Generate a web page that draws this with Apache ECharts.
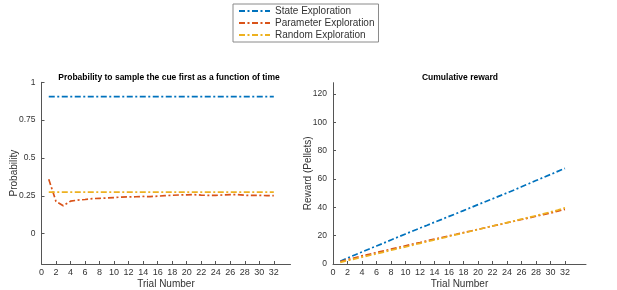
<!DOCTYPE html>
<html>
<head>
<meta charset="utf-8">
<script src="https://cdn.jsdelivr.net/npm/echarts@6/dist/echarts.min.js"></script>
<style>
  html, body { margin: 0; padding: 0; background: #fff; }
  #chart { width: 617px; height: 290px; }
</style>
</head>
<body>
<div id="chart"></div>
<script>
// ---- data ----
const trials = [1,2,3,4,5,6,7,8,9,10,11,12,13,14,15,16,17,18,19,20,21,22,23,24,25,26,27,28,29,30,31,32];
const xTickLabels = [0,2,4,6,8,10,12,14,16,18,20,22,24,26,28,30,32];
const probTicks = [0, 0.25, 0.5, 0.75, 1];
const rewardTicks = [0, 20, 40, 60, 80, 100, 120];

// probability to sample the cue first
const probState = Array(32).fill(0.905);
const probParam = [0.36,0.213,0.185,0.215,0.222,0.226,0.232,0.234,0.236,0.239,0.242,0.243,0.244,0.246,0.245,0.248,
                   0.251,0.254,0.256,0.257,0.258,0.255,0.253,0.253,0.256,0.258,0.258,0.254,0.253,0.253,0.252,0.251];
const probRandom = Array(32).fill(0.275);

// cumulative reward
const rewardState = [2,4.2,6.4,8.5,10.6,12.7,14.8,17,19.1,21.2,23.3,25.4,27.4,29.5,31.5,33.6,35.6,37.7,39.8,41.9,
                     44,46,48.1,50.2,52.3,54.5,56.7,58.9,61.1,63.2,65.4,67.5];
const rewardParam = [1.8,3.1,4.4,5.7,6.9,8.1,9.3,10.5,11.7,12.9,14.1,15.2,16.4,17.6,18.7,19.9,21,22.2,23.3,24.5,
                     25.6,26.8,27.9,29.1,30.2,31.4,32.5,33.7,34.9,36,37.3,38.6];
const rewardRandom = [1.2,2.4,3.6,4.8,6,7.2,8.4,9.7,10.9,12.1,13.3,14.6,15.8,17,18.2,19.5,20.7,21.9,23.1,24.3,
                      25.6,26.8,28,29.2,30.4,31.7,32.9,34.1,35.4,36.7,38,39.6];

const seriesNames = ["State Exploration", "Parameter Exploration", "Random Exploration"];
const colors = ["#0072BD", "#D95319", "#EDB120"];

const textColor = "#333";
const axisColor = "#555";
const font = "Liberation Sans, Arial, sans-serif";

const pairUp = (ys) => ys.map((y, i) => [trials[i], y]);

const makeSeries = (idx, ys, gridIdx) => ({
  name: seriesNames[idx],
  type: "line",
  xAxisIndex: gridIdx,
  yAxisIndex: gridIdx,
  data: pairUp(ys),
  showSymbol: false,
  symbol: "none",
  silent: true,
  lineStyle: { color: colors[idx], width: 1.7, type: [6, 2.5, 2, 2.5] },
  itemStyle: { color: colors[idx] },
});

const xAxisFor = (gridIdx, max) => ({
  type: "value",
  gridIndex: gridIdx,
  min: 0,
  max: max,
  name: "Trial Number",
  nameLocation: "middle",
  nameGap: 15,
  nameMoveOverlap: false,
  nameTextStyle: { color: textColor, fontSize: 10, fontFamily: font },
  splitLine: { show: false },
  axisLine: { onZero: false, lineStyle: { color: axisColor, width: 1 } },
  axisTick: { inside: true, length: 3, customValues: xTickLabels, lineStyle: { color: axisColor } },
  axisLabel: { customValues: xTickLabels, color: textColor, fontSize: 9, fontFamily: font, margin: 4 },
});

const yAxisFor = (gridIdx, min, max, ticks, name, gap) => ({
  type: "value",
  gridIndex: gridIdx,
  min: min,
  max: max,
  name: name,
  nameLocation: "middle",
  nameGap: gap,
  nameMoveOverlap: false,
  nameTextStyle: { color: textColor, fontSize: 10, fontFamily: font },
  splitLine: { show: false },
  axisLine: { show: true, onZero: false, lineStyle: { color: axisColor, width: 1 } },
  axisTick: { show: true, inside: true, length: 3, customValues: ticks, lineStyle: { color: axisColor } },
  axisLabel: { customValues: ticks, color: textColor, fontSize: 8.5, fontFamily: font, margin: 6 },
});

const chart = echarts.init(document.getElementById("chart"), null, { renderer: "canvas" });

chart.setOption({
  animation: false,
  backgroundColor: "#fff",
  textStyle: { fontFamily: font },
  title: [
    {
      text: "Probability to sample the cue first as a function of time",
      left: 164, top: 68, textAlign: "center",
      textStyle: { fontSize: 8.5, fontWeight: "bold", color: "#000", fontFamily: font },
    },
    {
      text: "Cumulative reward",
      left: 455, top: 68, textAlign: "center",
      textStyle: { fontSize: 8.5, fontWeight: "bold", color: "#000", fontFamily: font },
    },
  ],
  legend: {
    data: seriesNames,
    orient: "vertical",
    left: 233,
    top: 4,
    padding: [2, 4, 2, 5],
    itemWidth: 31,
    itemHeight: 9,
    itemGap: 2,
    itemStyle: { opacity: 0 },
    borderColor: "#8a8a8a",
    borderWidth: 1,
    backgroundColor: "#fff",
    textStyle: { color: textColor, fontSize: 10, fontFamily: font },
  },
  grid: [
    { left: 41.5, top: 82.3, width: 249, height: 181.7, outerBoundsMode: "none" },
    { left: 333, top: 82.7, width: 253, height: 181.3, outerBoundsMode: "none" },
  ],
  xAxis: [xAxisFor(0, 34.3), xAxisFor(1, 34.9)],
  yAxis: [
    yAxisFor(0, -0.2, 1, probTicks, "Probability", 22),
    yAxisFor(1, 0, 128, rewardTicks, "Reward (Pellets)", 20),
  ],
  series: [
    makeSeries(0, probState, 0),
    makeSeries(1, probParam, 0),
    makeSeries(2, probRandom, 0),
    makeSeries(0, rewardState, 1),
    makeSeries(1, rewardParam, 1),
    makeSeries(2, rewardRandom, 1),
  ],
});
</script>
</body>
</html>
